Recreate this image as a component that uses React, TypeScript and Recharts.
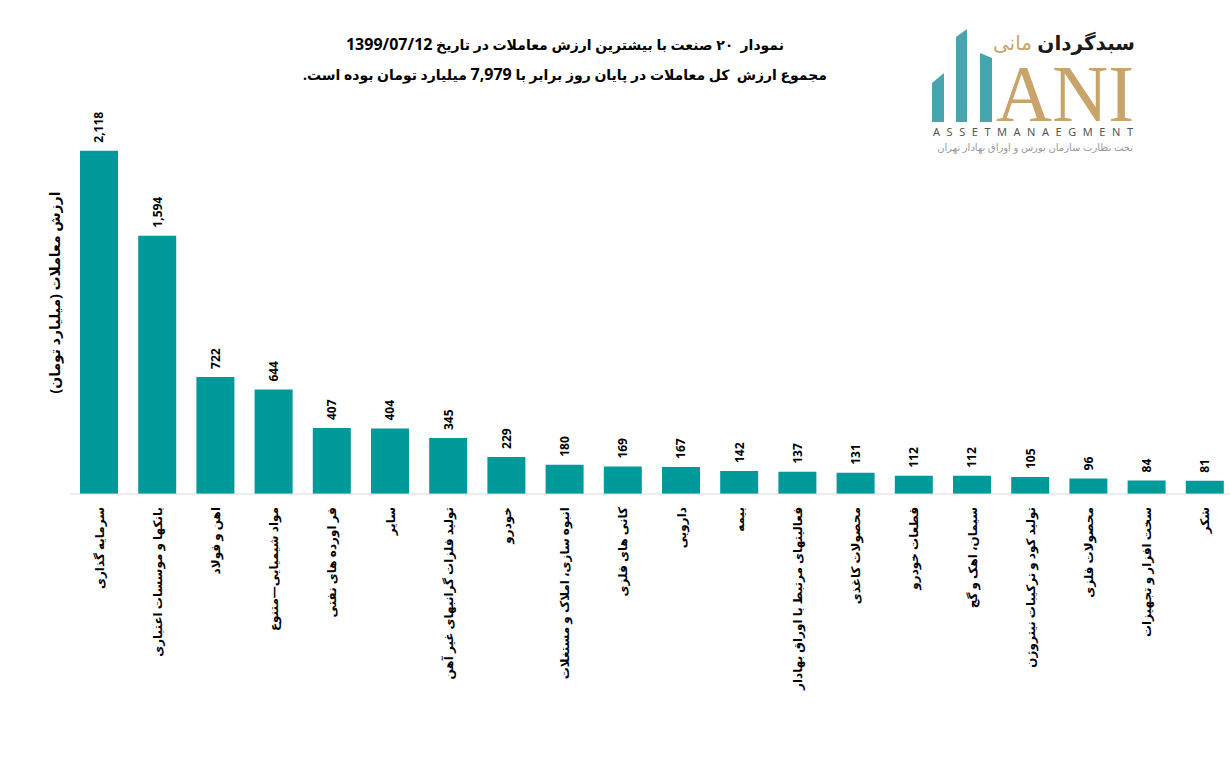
import { BarChart, Bar, XAxis, YAxis, LabelList } from "recharts";

const industries = [
    "سرمایه گذاری",
    "بانکها و موسسات اعتباری",
    "اهن و فولاد",
    "مواد شیمیایی—متنوع",
    "فر اورده های نفتی",
    "سایر",
    "تولید فلزات گرانبهای غیر آهن",
    "خودرو",
    "انبوه سازی، املاک و مستغلات",
    "کانی های فلزی",
    "دارویی",
    "بیمه",
    "فعالیتهای مرتبط با اوراق بهادار",
    "محصولات کاغذی",
    "قطعات خودرو",
    "سیمان، اهک و گچ",
    "تولید کود و ترکیبات نیتروژن",
    "محصولات فلزی",
    "سخت افزار و تجهیزات",
    "شکر",
];

const tradeValues = [2118, 1594, 722, 644, 407, 404, 345, 229, 180, 169, 167, 142, 137, 131, 112, 112, 105, 96, 84, 81];

const titleLine1 = "نمودار  ۲۰ صنعت با بیشترین ارزش معاملات در تاریخ ";
const titleDate = "1399/07/12";
const titleLine2a = "مجموع ارزش  کل معاملات در پایان روز برابر با ";
const titleTotal = "7,979";
const titleLine2b = " میلیارد تومان بوده است.";
const yLabel = "ارزش معاملات (میلیارد تومان)\u200F";

const data = industries.map((name, i) => ({ name, value: tradeValues[i] }));

const FONT = "'Noto Sans', 'DejaVu Sans', sans-serif";
const TEAL = "#009a9a";
const GOLD = "#c9a46a";

const IndustryTick = (props: any) => {
    const { x, y, payload } = props;
    const ty = y + 5;
    return (
        <text
            x={x}
            y={ty}
            transform={`rotate(-90, ${x}, ${ty})`}
            textAnchor="end"
            dominantBaseline="central"
            fontSize={12}
            fontWeight="bold"
            fontFamily={FONT}
            fill="#000"
        >
            {payload.value}
        </text>
    );
};

const ValueLabel = (props: any) => {
    const { x, y, width, value } = props;
    const cx = x + width / 2;
    const cy = y - 8;
    return (
        <text
            x={cx}
            y={cy}
            transform={`rotate(-90, ${cx}, ${cy})`}
            textAnchor="start"
            dominantBaseline="central"
            fontSize={12}
            fontWeight="bold"
            fontFamily={FONT}
            fill="#000"
        >
            {Number(value).toLocaleString("en-US")}
        </text>
    );
};

function Logo() {
    // svg placed at (910, 10); inner coordinates offset accordingly
    return (
        <svg width={240} height={160} style={{ position: "absolute", left: 910, top: 10 }}>
            <polygon points="22,73 34,63 34,112 22,112" fill="#45a6b0" />
            <polygon points="46,27 57,19 57,112 46,112" fill="#45a6b0" />
            <polygon points="70,43 82,48 82,112 70,112" fill="#45a6b0" />
            <text x={225} y={40} textAnchor="end" fontSize={20} fontWeight="bold" fontFamily={FONT} fill="#1a1a1a">
                سبدگردان
            </text>
            <text x={122} y={40} textAnchor="end" fontSize={20} fontFamily={FONT} fill={GOLD}>
                مانی
            </text>
            <text x={86} y={111} fontSize={80} fontFamily="'Liberation Serif', serif" fill={GOLD}
                  textLength={138} lengthAdjust="spacingAndGlyphs">
                ANI
            </text>
            <text x={23} y={126} fontSize={11} fontFamily={FONT} fill="#555" textLength={200} lengthAdjust="spacing">
                ASSETMANAEGMENT
            </text>
            <text x={223} y={141} textAnchor="end" fontSize={10} fontFamily={FONT} fill="#999">
                تحت نظارت سازمان بورس و اوراق بهادار تهران
            </text>
        </svg>
    );
}

export default function App() {
    const titleStyle: any = {
        position: "absolute",
        left: 265,
        width: 600,
        textAlign: "center",
        fontFamily: FONT,
        fontWeight: "bold",
        fontSize: 14,
        lineHeight: "20px",
        color: "#000",
        whiteSpace: "pre",
    };
    return (
        <div style={{ position: "absolute", left: 0, top: 0, width: 1230, height: 760, overflow: "hidden", background: "#fff" }}>
            <div dir="rtl" style={{ ...titleStyle, top: 34 }}>
                {titleLine1}<span style={{ fontSize: 16 }}>{titleDate}</span>
            </div>
            <div dir="rtl" style={{ ...titleStyle, top: 64 }}>
                {titleLine2a}<span style={{ fontSize: 16 }}>{titleTotal}</span>{titleLine2b}
            </div>
            <Logo />
            <div style={{ position: "absolute", left: 0, top: 0 }}>
                <BarChart
                    width={1234}
                    height={760}
                    data={data}
                    margin={{ top: 105, right: 0, left: 0, bottom: 66 }}
                >
                    <XAxis
                        dataKey="name"
                        interval={0}
                        height={200}
                        tickLine={false}
                        axisLine={{ stroke: "#d9d9d9" }}
                        tick={<IndustryTick />}
                    />
                    <YAxis
                        width={70}
                        domain={[0, 2400]}
                        tick={false}
                        axisLine={false}
                        tickLine={false}
                        label={{
                            value: yLabel,
                            angle: -90,
                            position: "center",
                            dx: 20,
                            dy: -7,
                            fontSize: 14,
                            fontWeight: "bold",
                            fontFamily: FONT,
                            fill: "#000",
                        }}
                    />
                    <Bar dataKey="value" fill={TEAL} barSize={38} isAnimationActive={false}>
                        <LabelList dataKey="value" content={<ValueLabel />} />
                    </Bar>
                </BarChart>
            </div>
        </div>
    );
}
